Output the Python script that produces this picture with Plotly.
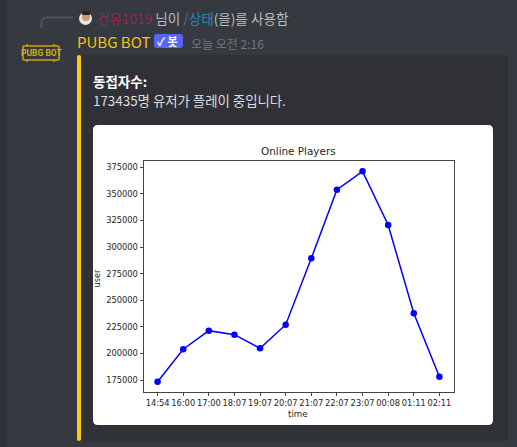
import plotly.graph_objects as go

times = ["14:54", "16:00", "17:00", "18:07", "19:07", "20:07", "21:07", "22:07", "23:07", "00:08", "01:11", "02:11"]
users = [173435, 203900, 221400, 217600, 204800, 227000, 289400, 353900, 371200, 320700, 237700, 178100]
y_ticks = [175000, 200000, 225000, 250000, 275000, 300000, 325000, 350000, 375000]

W, H = 517, 447
PX = lambda x: x / W
PY = lambda y: 1 - y / H
CJK = "Noto Sans CJK KR"
MPL = "DejaVu Sans"
GOLD = "#c9a60d"


def rrect(x0, y0, x1, y1, r):
    a, b, c, d = PX(x0), PY(y0), PX(x1), PY(y1)
    rx, ry = r / W, r / H
    return (f"M{a+rx},{b} L{c-rx},{b} Q{c},{b} {c},{b-ry} L{c},{d+ry} Q{c},{d} {c-rx},{d} "
            f"L{a+rx},{d} Q{a},{d} {a},{d+ry} L{a},{b-ry} Q{a},{b} {a+rx},{b} Z")


def rect(x0, y0, x1, y1, color):
    return dict(type="rect", xref="paper", yref="paper", x0=PX(x0), x1=PX(x1), y0=PY(y1), y1=PY(y0),
                fillcolor=color, line_width=0, layer="below")


def circle(x0, y0, x1, y1, color):
    return dict(type="circle", xref="paper", yref="paper", x0=PX(x0), x1=PX(x1), y0=PY(y1), y1=PY(y0),
                fillcolor=color, line_width=0, layer="below")


def path(d, fill=None, line=None, width=0):
    s = dict(type="path", xref="paper", yref="paper", path=d, layer="below")
    if fill:
        s["fillcolor"] = fill
    s["line"] = dict(color=line or "rgba(0,0,0,0)", width=width)
    return s


def text(x, y, s, size, color, family=CJK, anchor="left"):
    return dict(xref="paper", yref="paper", x=PX(x), y=PY(y), text=s, showarrow=False, xanchor=anchor,
                yanchor="middle", font=dict(family=family, size=size, color=color), borderpad=0, borderwidth=0)


shapes = [
    rect(0, 0, 7, H, "#2f3136"),
    path(rrect(77, 55, 508, 441, 4), fill="#2f3136"),
    path(rrect(77, 55, 81, 441, 2), fill="#fccc0a"),
    path(rrect(93, 125, 493, 425, 5), fill="#ffffff"),
    path(f"M{PX(41.5)},{PY(28)} L{PX(41.5)},{PY(23)} Q{PX(41.5)},{PY(17.5)} {PX(47)},{PY(17.5)} L{PX(73)},{PY(17.5)}",
         line="#4f545c", width=2),
    circle(79, 12, 92, 25, "#e9e4de"),
    circle(82, 13, 90, 21, "#c99a7a"),
    path(rrect(82, 11.5, 90, 15, 1), fill="#2b2320"),
    path(rrect(154, 34, 183, 48, 3), fill="#5865f2"),
    path(rrect(23, 46, 59, 60, 1), line=GOLD, width=1.5),
    rect(26.5, 44, 28, 46, GOLD), rect(53.5, 44, 55, 46, GOLD),
    rect(26.5, 60, 28, 62, GOLD), rect(53.5, 60, 55, 62, GOLD),
]

annotations = [
    text(97, 18, '<span style="color:#96264f">건유1019</span> <span style="color:#b9bbbe">님이</span> '
                 '<span style="color:#2b86b5">/상태</span><span style="color:#b9bbbe">(을)를 사용함</span>',
         13.6, "#b9bbbe"),
    text(77, 41, "PUBG BOT", 15, "#f1c40f"),
    text(157, 41, "<b>✓ 봇</b>", 11, "#ffffff"),
    text(191, 43, "오늘 오전 2:16", 12, "#72767d"),
    text(93, 81, "<b>동접자수:</b>", 13.5, "#ffffff"),
    text(93, 100, "173435명 유저가 플레이 중입니다.", 13.4, "#dcddde"),
    text(41, 53, "<b>PUBG BOT</b>", 8.5, "#d4ae0e", family="Roboto", anchor="center"),
    text(298, 151, "Online Players", 10.4, "#262626", family=MPL, anchor="center"),
    text(298, 413.5, "time", 8.7, "#262626", family=MPL, anchor="center"),
    {**text(96.5, 279, "user", 8.2, "#262626", family=MPL, anchor="center"), "textangle": -90},
]

fig = go.Figure(go.Scatter(
    x=times, y=users, mode="lines+markers",
    line=dict(color="#0000ff", width=1.5),
    marker=dict(color="#0000ff", size=6.5),
    hoverinfo="skip",
))

axis_common = dict(showgrid=False, zeroline=False, showline=True, mirror=True, linecolor="#444444", linewidth=1,
                   ticks="outside", ticklen=3, tickwidth=1, tickcolor="#444444",
                   tickfont=dict(family=MPL, size=8.3, color="#262626"))
fig.update_layout(
    width=W, height=H, margin=dict(l=0, r=0, t=0, b=0),
    paper_bgcolor="#36393f", plot_bgcolor="rgba(0,0,0,0)",
    showlegend=False, shapes=shapes, annotations=annotations,
    xaxis=dict(domain=[PX(143.5), PX(453.5)], type="category", categoryorder="array", categoryarray=times,
               range=[-0.55, 11.55], tickmode="array", tickvals=times, ticktext=times, tickangle=0, **axis_common),
    yaxis=dict(domain=[PY(391.7), PY(161)], range=[164000, 380900], tickmode="array", tickvals=y_ticks,
               ticktext=[str(v) for v in y_ticks], **axis_common),
)

fig.write_html("out.html", config={"displayModeBar": False},
               post_script="document.body.style.margin='0';document.body.style.overflow='hidden';")
